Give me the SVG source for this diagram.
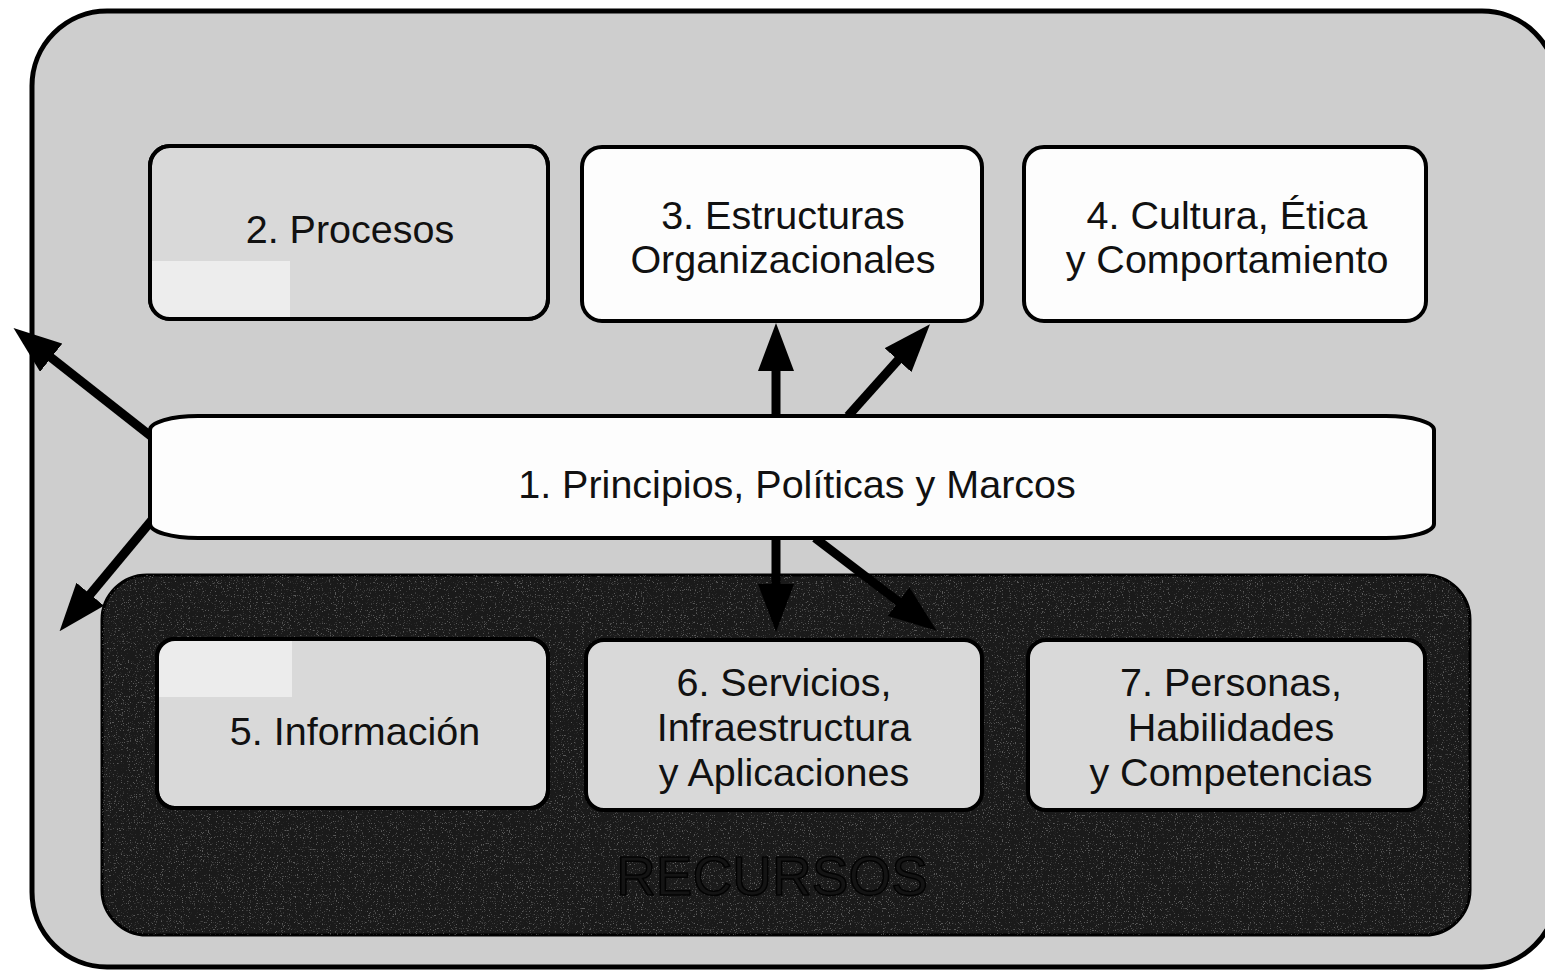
<svg xmlns="http://www.w3.org/2000/svg" width="1545" height="970" viewBox="0 0 1545 970">
  <style>
    .box { stroke: #000; stroke-width: 4; }
    .white { fill: #fdfdfd; }
    .grey { fill: #d9d9d9; }
    .lbl { font-family: "Liberation Sans", Arial, sans-serif; font-size: 39.5px; fill: #111; text-anchor: middle; }
    .arrow { stroke: #000; stroke-width: 9; fill: none; marker-end: url(#head); }
  </style>
  <defs>
    <marker id="head" markerUnits="userSpaceOnUse" markerWidth="48" markerHeight="36" refX="27" refY="18" orient="auto">
      <path d="M0,0 L48,18 L0,36 Z" fill="#000"/>
    </marker>
    <clipPath id="resClip">
      <rect x="102" y="575" width="1368" height="360" rx="45" ry="45"/>
    </clipPath>
    <clipPath id="clip2">
      <rect x="150" y="146" width="398" height="173" rx="20" ry="20"/>
    </clipPath>
    <clipPath id="clip5">
      <rect x="157" y="639" width="391" height="169" rx="18" ry="18"/>
    </clipPath>
    <filter id="speck" x="0" y="0" width="100%" height="100%">
      <feTurbulence type="fractalNoise" baseFrequency="0.85" numOctaves="2" seed="7" result="n"/>
      <feColorMatrix in="n" type="matrix" values="0 0 0 0 0.5  0 0 0 0 0.5  0 0 0 0 0.5  0 0 0 7 -4.3"/>
    </filter>
  </defs>

  <rect width="1545" height="970" fill="#ffffff"/>

  <!-- outer frame -->
  <g id="frame">
    <rect x="32" y="11" width="1525" height="956" rx="75" ry="75" fill="#cecece" stroke="#000" stroke-width="5"/>
  </g>

  <!-- resources panel -->
  <g id="recursos">
    <rect x="102" y="575" width="1368" height="360" rx="45" ry="45" fill="#1a1a1a" stroke="#000" stroke-width="3"/>
    <rect x="102" y="575" width="1368" height="360" clip-path="url(#resClip)" filter="url(#speck)" opacity="0.4"/>
    <text x="772" y="895" font-family="Liberation Sans, Arial, sans-serif" font-size="55" text-anchor="middle" fill="#141414" stroke="#030303" stroke-width="1.5">RECURSOS</text>
  </g>

  <g id="n2">
    <rect class="box grey" x="150" y="146" width="398" height="173" rx="20" ry="20"/>
    <rect x="152" y="261" width="138" height="56" fill="#ededed" clip-path="url(#clip2)"/>
    <rect x="150" y="146" width="398" height="173" rx="20" ry="20" fill="none" stroke="#000" stroke-width="4"/>
    <text class="lbl" x="350" y="243">2. Procesos</text>
  </g>

  <g id="n3">
    <rect class="box white" x="582" y="147" width="400" height="174" rx="20" ry="20"/>
    <text class="lbl" x="783" y="229">3. Estructuras</text>
    <text class="lbl" x="783" y="273">Organizacionales</text>
  </g>

  <g id="n4">
    <rect class="box white" x="1024" y="147" width="402" height="174" rx="20" ry="20"/>
    <text class="lbl" x="1227" y="229">4. Cultura, Ética</text>
    <text class="lbl" x="1227" y="273">y Comportamiento</text>
  </g>

  <!-- connectors -->
  <g id="connectors">
    <line class="arrow" x1="776" y1="416" x2="776" y2="344"/>
    <line class="arrow" x1="848" y1="416" x2="916" y2="340"/>
    <line class="arrow" x1="152" y1="437" x2="30" y2="341"/>
    <line class="arrow" x1="152" y1="520" x2="73" y2="615"/>
    <line class="arrow" x1="776" y1="537" x2="776" y2="611"/>
    <line class="arrow" x1="815" y1="538" x2="920" y2="618"/>
  </g>

  <g id="n1">
    <rect class="box white" x="150" y="416" width="1284" height="122" rx="48" ry="14"/>
    <text class="lbl" x="797" y="498">1. Principios, Políticas y Marcos</text>
  </g>

  <g id="n5">
    <rect class="box grey" x="157" y="639" width="391" height="169" rx="18" ry="18"/>
    <rect x="157" y="639" width="135" height="58" fill="#ececec" clip-path="url(#clip5)"/>
    <rect x="157" y="639" width="391" height="169" rx="18" ry="18" fill="none" stroke="#000" stroke-width="4"/>
    <text class="lbl" x="355" y="745">5. Información</text>
  </g>

  <g id="n6">
    <rect class="box grey" x="586" y="640" width="396" height="170" rx="18" ry="18"/>
    <text class="lbl" x="784" y="696">6. Servicios,</text>
    <text class="lbl" x="784" y="741">Infraestructura</text>
    <text class="lbl" x="784" y="786">y Aplicaciones</text>
  </g>

  <g id="n7">
    <rect class="box grey" x="1028" y="640" width="397" height="170" rx="18" ry="18"/>
    <text class="lbl" x="1231" y="696">7. Personas,</text>
    <text class="lbl" x="1231" y="741">Habilidades</text>
    <text class="lbl" x="1231" y="786">y Competencias</text>
  </g>
</svg>
